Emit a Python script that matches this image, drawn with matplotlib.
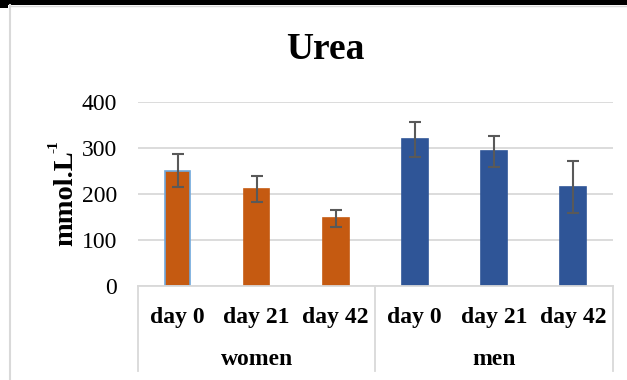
"""Urea bar chart with error bars, women vs men across days."""

import matplotlib.pyplot as plt
from matplotlib.lines import Line2D
from matplotlib.patches import Rectangle
from matplotlib.transforms import blended_transform_factory
import numpy as np

plt.rcParams['font.family'] = 'Liberation Serif'

# Data
groups = ['women', 'men']
days = ['day 0', 'day 21', 'day 42']
women_vals = [250, 210, 146]
women_err = [36, 29, 18]
men_vals = [318, 292, 214]
men_err = [38, 34, 56]

W, H = 627, 380
fig = plt.figure(figsize=(W / 100, H / 100), dpi=100)
ax = fig.add_axes([138 / W, 1 - 285.5 / H, (612.5 - 138) / W, (285.5 - 101.5) / H])

orange = '#C55A11'
blue = '#2F5597'
grid_c = '#D9D9D9'

x = np.arange(6)
vals = women_vals + men_vals
errs = women_err + men_err
colors = [orange] * 3 + [blue] * 3
edges = ['#6FA8DC'] + [orange] * 2 + [blue] * 3

ax.bar(x, vals, width=0.325, color=colors, edgecolor=edges, linewidth=1.2, zorder=3)
ax.errorbar(x, vals, yerr=errs, fmt='none', ecolor='#595959', elinewidth=1.5,
            capsize=4.3, capthick=1.5, zorder=4)

ax.set_xlim(-0.5, 5.5)
ax.set_ylim(0, 400)
ax.set_yticks([0, 100, 200, 300, 400])
ax.tick_params(axis='y', length=0, labelsize=17, pad=15)
ax.set_xticks([])
ax.grid(axis='y', color=grid_c, linewidth=1.3, zorder=0)
for s in ['top', 'right', 'left']:
    ax.spines[s].set_visible(False)
ax.spines['bottom'].set_color(grid_c)
ax.spines['bottom'].set_linewidth(1.3)
ax.spines['bottom'].set_zorder(5)

# Category and group labels below the axis
bt = blended_transform_factory(ax.transData, fig.transFigure)
for i, d in enumerate(days * 2):
    ax.text(x[i], 1 - 322.5 / H, d, fontsize=17, fontweight='bold',
            ha='center', va='baseline', transform=bt)
for g, gx in zip(groups, [1, 4]):
    ax.text(gx, 1 - 365 / H, g, fontsize=17, fontweight='bold',
            ha='center', va='baseline', transform=bt)
for sx in [-0.5, 2.5, 5.5]:
    ax.add_line(Line2D([sx, sx], [1 - 285.5 / H, 1 - 371 / H], transform=bt,
                       color=grid_c, linewidth=1.3, clip_on=False))

fig.text(325 / W, 1 - 59 / H, 'Urea', fontsize=27, fontweight='bold',
         ha='center', va='baseline')

# y label with a superscript placed right after it
ylab = fig.text(72 / W, 1 - 246.5 / H, 'mmol.L', fontsize=20.5, fontweight='bold',
                rotation=90, rotation_mode='anchor', ha='left', va='baseline')
fig.canvas.draw()
top_px = ylab.get_window_extent().y1
fig.text(57 / W, (top_px - 2) / H, '-1', fontsize=11, fontweight='bold',
         rotation=90, rotation_mode='anchor', ha='left', va='baseline')

# Frame bits
fig.add_artist(Rectangle((0, 1 - 5 / H), 1, 5 / H, transform=fig.transFigure,
                         color='black', lw=0))
fig.add_artist(Rectangle((0, 1 - 8 / H), 8 / W, 8 / H, transform=fig.transFigure,
                         color='black', lw=0))
fig.add_artist(Line2D([9.5 / W, 9.5 / W], [0, 1 - 5 / H], transform=fig.transFigure,
                      color=grid_c, linewidth=1.5))
fig.add_artist(Line2D([9.5 / W, 1], [1 - 5.8 / H, 1 - 5.8 / H], transform=fig.transFigure,
                      color=grid_c, linewidth=1.0))

fig.savefig('out.png', dpi=100)
